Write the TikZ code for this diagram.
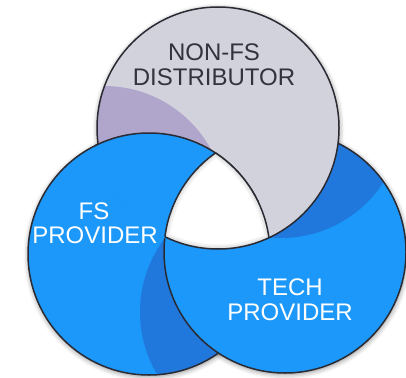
\documentclass[tikz,border=0pt]{standalone}
\usepackage{fontspec}
\newfontfamily\lab{Liberation Sans}
\usetikzlibrary{shadows.blur}
\definecolor{fsblue}{HTML}{1B98FA}
\definecolor{fsdark}{HTML}{2078DC}
\definecolor{nfgrey}{HTML}{D2D2DD}
\definecolor{nfpurple}{HTML}{B0A6CB}
\definecolor{rim}{HTML}{2A2A33}
\definecolor{ink}{HTML}{33333D}
\begin{document}
\begin{tikzpicture}[x=1pt,y=-1pt,
  rimline/.style={draw=rim,line width=1.5pt},
  lbl/.style={font=\lab\fontsize{24}{25}\selectfont,inner sep=0pt,anchor=base},
  softshadow/.style={blur shadow={shadow xshift=0.5pt,shadow yshift=-1.5pt,
      shadow blur radius=5pt,shadow opacity=45}}]
\useasboundingbox (0,0) rectangle (406,377);
\def\rad{121pt}
% circle centres
\coordinate (cT) at (218,128);
\coordinate (cL) at (149,254);
\coordinate (cR) at (285,252);
% centres of the shade arcs cast by the overlapping circle
\coordinate (sT) at (104,208);
\coordinate (sR) at (281,116);
\coordinate (sL) at (262,312);

% soft drop shadows
\path[softshadow] (cL) circle[radius=\rad];
\path[softshadow] (cR) circle[radius=\rad];
\path[softshadow] (cT) circle[radius=\rad];

% left circle
\fill[fsblue] (cL) circle[radius=\rad];
\begin{scope}
  \clip (cL) circle[radius=\rad];
  \fill[fsdark] (sL) circle[radius=122pt];
\end{scope}
\draw[rimline] (cL) circle[radius=\rad];

% right circle, over the left one
\fill[fsblue] (cR) circle[radius=\rad];
\begin{scope}
  \clip (cR) circle[radius=\rad];
  \fill[fsdark] (sR) circle[radius=122pt];
\end{scope}
\draw[rimline] (cR) circle[radius=\rad];

% top circle, over the right one
\fill[nfgrey] (cT) circle[radius=\rad];
\begin{scope}
  \clip (cT) circle[radius=\rad];
  \fill[nfpurple] (sT) circle[radius=122pt];
\end{scope}
\draw[rimline] (cT) circle[radius=\rad];

% left circle laid back over the top one
\begin{scope}
  \clip (cL) circle[radius=\rad];
  \fill[fsblue] (cT) circle[radius=\rad];
  \draw[fsblue,line width=2.6pt] (cT) circle[radius=\rad];
\end{scope}
\begin{scope}
  \clip (cT) circle[radius=124pt];
  \clip (0,0) rectangle (406,200);
  \draw[rimline] (cL) circle[radius=\rad];
\end{scope}

% empty centre where all three meet
\begin{scope}
  \clip (cL) circle[radius=\rad];
  \clip (cT) circle[radius=\rad];
  \fill[white] (cR) circle[radius=\rad];
  \clip (cR) circle[radius=\rad];
  \draw[black,opacity=0.05,line width=9pt] (cL) circle[radius=\rad]
    (cT) circle[radius=\rad] (cR) circle[radius=\rad];
  \draw[black,opacity=0.05,line width=5pt] (cL) circle[radius=\rad]
    (cT) circle[radius=\rad] (cR) circle[radius=\rad];
\end{scope}
\begin{scope}
  \clip (cL) circle[radius=\rad];
  \clip (cT) circle[radius=\rad];
  \draw[rimline] (cR) circle[radius=\rad];
\end{scope}
\begin{scope}
  \clip (cL) circle[radius=\rad];
  \clip (cR) circle[radius=\rad];
  \draw[rimline] (cT) circle[radius=\rad];
\end{scope}
\begin{scope}
  \clip (cT) circle[radius=\rad];
  \clip (cR) circle[radius=\rad];
  \draw[rimline] (cL) circle[radius=\rad];
\end{scope}

% labels
\node[lbl,text=ink] (nf1) at (214,61) {NON-FS};
\node[lbl,text=ink] (nf2) at (214,86) {DISTRIBUTOR};
\node[lbl,text=white] (fs1) at (94,219) {FS};
\node[lbl,text=white] (fs2) at (95,243) {PROVIDER};
\node[lbl,text=white] (tp1) at (290,295) {TECH};
\node[lbl,text=white] (tp2) at (290,320) {PROVIDER};
\end{tikzpicture}
\end{document}
